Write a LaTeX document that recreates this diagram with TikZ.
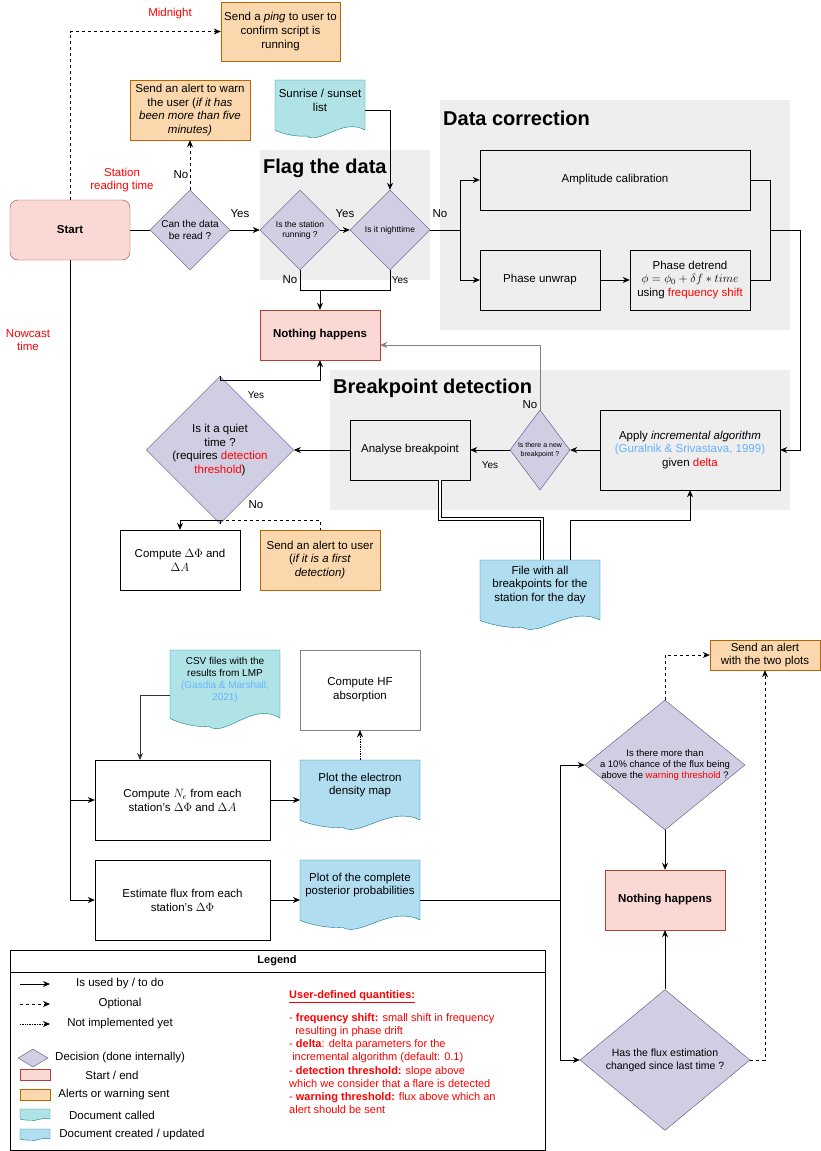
\documentclass[tikz,border=0pt]{standalone}
\usepackage{fontspec}
\setmainfont{Liberation Sans}
\usetikzlibrary{shapes.geometric,arrows.meta}
\definecolor{orf}{HTML}{FAD7AC}\definecolor{ors}{HTML}{B46504}
\definecolor{rdf}{HTML}{FAD9D5}\definecolor{rds}{HTML}{AE4132}
\definecolor{tlf}{HTML}{B0E3E6}\definecolor{tls}{HTML}{0E8088}
\definecolor{blf}{HTML}{B1DDF0}\definecolor{bls}{HTML}{10739E}
\definecolor{dcf}{HTML}{D0CEE2}\definecolor{dcs}{HTML}{56517E}
\definecolor{bgg}{HTML}{EEEEEE}\definecolor{lblue}{HTML}{66B2FF}
\newcommand{\fs}[1]{\fontsize{#1}{#1}\selectfont\setlength\baselineskip{1.2\dimexpr #1pt\relax}}
\newcommand{\docwave}[6]{% x1 y1 x2 y2 fill stroke
 \draw[#6,fill=#5] (#1,#2) -- (#3,#2) -- (#3,#4)
  .. controls ({#3-0.25*(#3-#1)},{#4-0.25*(#4-#2)}) and ({#1+0.5*(#3-#1)},{#4+0.3*(#4-#2)}) .. ({#1+0.35*(#3-#1)},{#4+0.12*(#4-#2)})
  .. controls ({#1+0.2*(#3-#1)},{#4+0.15*(#4-#2)}) and (#1,{#4+0.02*(#4-#2)}) .. (#1,#4) -- cycle;}
\tikzset{
 base/.style={align=center,font=\fs{11.5},inner sep=1pt},
 box/.style={base,draw,minimum width=#1,rectangle},
 orbox/.style={base,draw=ors,fill=orf},
 rdbox/.style={base,draw=rds,fill=rdf,font=\fs{11.5}\bfseries},
 dec/.style={diamond,draw=dcs,fill=dcf,inner sep=0pt,align=center},
 lab/.style={font=\fs{11.5},inner sep=0pt},
 red/.style={lab,text=red},
 arr/.style={-{Stealth[length=7pt,width=6pt]},line width=0.7pt},
 ln/.style={line width=0.7pt},
 dsh/.style={arr,dashed},
 ttl/.style={font=\fs{20}\bfseries,anchor=west,inner sep=0pt},
}
\begin{document}
\begin{tikzpicture}[x=1pt,y=-1pt]
\useasboundingbox (0,0) rectangle (821,1151);
% backgrounds
\fill[bgg] (260,150) rectangle (430,280);
\fill[bgg] (440,100) rectangle (790,330);
\fill[bgg] (330,370) rectangle (790,510);
\node[ttl] (tflag) at (263,168) {Flag the data};
\node[ttl] (tcorr) at (443,118) {Data correction};
\node[ttl] (tbrk) at (333,388) {Breakpoint detection};
% top nodes
\node[orbox,minimum width=119,minimum height=59] (ping) at (280.5,31.5) {Send a \textit{ping} to user to\\confirm script is\\running};
\node[orbox,minimum width=120,minimum height=60] (alert1) at (190,110) {Send an alert to warn\\the user (\textit{if it has}\\\textit{been more than five}\\\textit{minutes)}};
\docwave{275}{80}{365}{130}{tlf}{tls}
\node[base,minimum width=90,minimum height=40] (sun) at (320,100) {Sunrise / sunset\\list};
\node[rdbox,rounded corners=8,minimum width=120,minimum height=60] (start) at (70,230) {Start};
\node[dec,minimum width=80,minimum height=80,font=\fs{10}] (canread) at (190,230) {Can the data\\be read ?};
\node[dec,minimum width=80,minimum height=80,font=\fs{8.5}] (running) at (300,230) {Is the station\\running ?};
\node[dec,minimum width=80,minimum height=80,font=\fs{8.5}] (night) at (390,230) {Is it nighttime};
\node[rdbox,minimum width=120,minimum height=50] (nothing1) at (320,335) {Nothing happens};
\node[box=270,minimum height=60] (ampl) at (615,180) {Amplitude calibration};
\node[box=120,minimum height=60] (unwrap) at (540,280) {Phase unwrap};
\node[box=120,minimum height=60] (detrend) at (690,280) {Phase detrend\\$\phi=\phi_0+\delta f*time$\\using \textcolor{red}{frequency shift}};
% labels
\node[red] at (170,14) {Midnight};
\node[red,align=center] at (122,180) {Station\\reading time};
\node[red,align=center] at (28,340) {Nowcast\\time};
\node[lab] at (181,175) {No};
\node[lab] at (240,214) {Yes};
\node[lab] at (345,214) {Yes};
\node[lab] at (440,214) {No};
\node[lab] at (290,280) {No};
\node[lab,font=\fs{10}] at (400,280) {Yes};
% top connectors
\draw[dsh] (start.north) |- (ping.west);
\draw[dsh] (canread.north) -- (alert1.south);
\draw[ln] (start.east) -- (canread.west);
\draw[arr] (canread.east) -- (running.west);
\draw[arr] (running.east) -- (night.west);
\draw[arr] (sun.east |- 0,110) -| (night.north);
\coordinate (j1) at (320,290);
\draw[ln] (running.south) |- (j1);
\draw[ln] (night.south) |- (j1);
\draw[arr] (j1) -- (nothing1.north);
\coordinate (j2) at (460,230);
\draw[ln] (night.east) -- (j2);
\draw[arr] (j2) |- (ampl.west);
\draw[arr] (j2) |- (unwrap.west);
\draw[arr] (unwrap) -- (detrend);
\coordinate (j3) at (770,230);
\draw[ln] (ampl.east) -| (j3);
\draw[ln] (detrend.east) -| (j3);
% breakpoint
\node[box=180,minimum height=80] (apply) at (690,450) {Apply \textit{incremental algorithm}\\\textcolor{lblue}{(Guralnik \& Srivastava, 1999)}\\given \textcolor{red}{delta}};
\draw[arr] (j3) -- (800,230) |- (apply.east);
\node[dec,minimum width=60,minimum height=80,font=\fs{7}] (newbp) at (540,450) {Is there a new\\breakpoint ?};
\node[box=120,minimum height=60] (analyse) at (410,450) {Analyse breakpoint};
\node[dec,minimum width=140,minimum height=110,font=\fs{11.5}] (quiet) at (220,450) {Is it a quiet\\time ?\\(requires \textcolor{red}{detection}\\\textcolor{red}{threshold})};
\draw[arr] (apply.west) -- (newbp.east);
\draw[arr] (newbp.west) -- (analyse.east);
\draw[arr] (analyse.west) -- (quiet.east);
\draw[arr,draw=gray] (newbp.north) |- (nothing1.east |- 0,345);
\draw[arr] (quiet.north) |- (320,380) -- (nothing1.south);
\node[lab] at (530,405) {No};
\node[lab,font=\fs{10}] at (490,465) {Yes};
\node[lab,font=\fs{10}] at (256,395) {Yes};
\node[lab] at (256,505) {No};
\node[box=120,minimum height=60] (dphi) at (180,560) {Compute $\Delta\Phi$ and\\$\Delta A$};
\node[orbox,minimum width=120,minimum height=60] (alert2) at (320,560) {Send an alert to user\\(\textit{if it is a first}\\\textit{detection)}};
\coordinate (j4) at (220,520);
\draw[ln] (quiet.south) -- (j4);
\draw[arr] (j4) -| (dphi.north);
\draw[ln,dashed] (j4) -| (alert2.north);
\docwave{480}{560}{600}{620}{blf}{bls}
\node[base,minimum width=120,minimum height=50] (file) at (540,585) {File with all\\breakpoints for the\\station for the day};
\draw[double,line width=0.7pt,double distance=2.5pt] (440,480) |- (542,519) -- (542,560);
\draw[arr] (570,560) |- (690,520) -- (apply.south);
% lower left
\coordinate (j5) at (70,800);
\node[box=175,minimum height=80] (ne) at (182.5,800) {Compute $N_e$ from each\\station's $\Delta\Phi$ and $\Delta A$};
\node[box=175,minimum height=80] (flux) at (182.5,900) {Estimate flux from each\\station's $\Delta\Phi$};
\draw[ln] (start.south) -- (70,900);
\draw[arr] (j5) -- (ne.west);
\draw[arr] (70,900) -- (flux.west);
\docwave{170}{650}{280}{718}{tlf}{tls}
\node[base,minimum width=110,minimum height=60,font=\fs{10}] (csv) at (225,680) {CSV files with the\\results from LMP\\\textcolor{lblue}{(Gasdia \& Marshall,}\\\textcolor{lblue}{2021)}};
\draw[arr,draw=gray!40!black] (170,695) -| (140,760);
\node[box=120,draw=gray,minimum height=80] (hf) at (360,690) {Compute HF\\absorption};
\docwave{300}{760}{420}{820}{blf}{bls}
\node[base,minimum width=120,minimum height=50] (ed) at (360,785) {Plot the electron\\density map};
\docwave{300}{860}{420}{920}{blf}{bls}
\node[base,minimum width=120,minimum height=50] (post) at (360,885) {Plot of the complete\\posterior probabilities};
\draw[arr] (ne.east) -- (300,800);
\draw[arr] (flux.east) -- (300,900);
\draw[arr,densely dotted,line width=0.5pt] (360,760) -- (hf.south);
% lower right
\node[dec,minimum width=160,minimum height=130] (q10) at (665,765) {};
\node[base,font=\fs{9.5}] at (665,765) {Is there more than\\a 10\% chance of the flux being\\above the \textcolor{red}{warning threshold} ?};
\node[rdbox,minimum width=120,minimum height=60] (nothing2) at (665,900) {Nothing happens};
\node[dec,minimum width=170,minimum height=120,font=\fs{10.5}] (chg) at (665,1060) {Has the flux estimation\\changed since last time ?};
\node[orbox,minimum width=110,minimum height=30] (alert3) at (765,655) {Send an alert\\with the two plots};
\coordinate (j6) at (560,900);
\draw[ln] (420,900) -- (j6);
\draw[arr] (j6) |- (q10.west);
\draw[arr] (j6) |- (chg.west);
\draw[arr] (q10.south) -- (nothing2.north);
\draw[arr] (chg.north) -- (nothing2.south);
\draw[dsh] (q10.north) |- (alert3.west);
\draw[dsh] (chg.east) -| (alert3.south);
% legend
\draw[line width=0.7pt] (10,950) rectangle (545,1150);
\draw[line width=0.7pt] (10,972) -- (545,972);
\node[lab,font=\fs{11}\bfseries] (leg) at (277,961) {Legend};
\draw[arr] (20,984) -- (50,984);
\node[lab] at (120,984) {Is used by / to do};
\draw[dsh] (20,1004) -- (50,1004);
\node[lab] at (120,1004) {Optional};
\draw[arr,densely dotted,line width=0.5pt] (20,1024) -- (50,1024);
\node[lab] at (120,1024) {Not implemented yet};
\node[dec,minimum width=30,minimum height=18] (ld) at (33,1058) {};
\node[lab,anchor=west] at (55,1058) {Decision (done internally)};
\draw[rds,fill=rdf] (20,1069) rectangle (50,1080);
\node[lab] at (112,1075) {Start / end};
\draw[ors,fill=orf] (20,1089) rectangle (50,1100);
\node[lab] at (114,1095) {Alerts or warning sent};
\docwave{20}{1109}{50}{1119}{tlf}{tls}
\node[lab] at (112,1115) {Document called};
\docwave{20}{1129}{50}{1139}{blf}{bls}
\node[lab] at (132,1135) {Document created / updated};
\node[lab,anchor=north west,align=left,text=red,font=\fs{11}] at (289,990) {\textbf{\underline{User-defined quantities:}}\\[10pt]
- \textbf{frequency shift:} small shift in frequency\\
\ \ resulting in phase drift\\
- \textbf{delta}: delta parameters for the\\
\ incremental algorithm (default: 0.1)\\
- \textbf{detection threshold:} slope above\\
which we consider that a flare is detected\\
- \textbf{warning threshold:} flux above which an\\
alert should be sent};
\end{tikzpicture}
\end{document}
